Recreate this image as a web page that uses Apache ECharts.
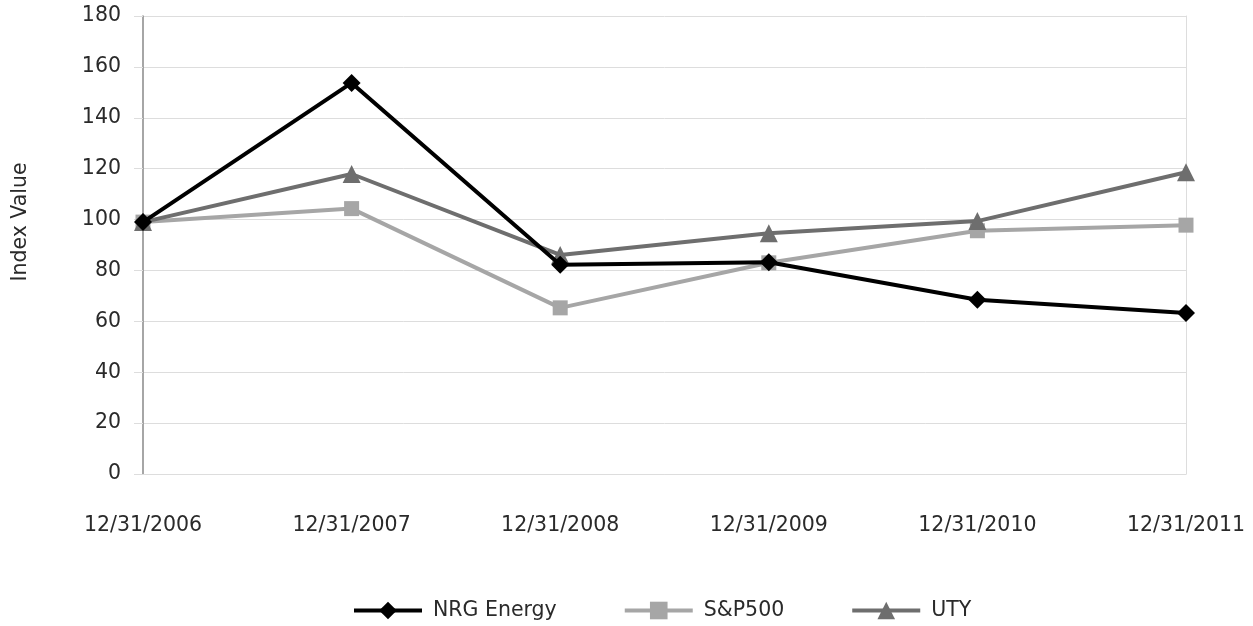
<!DOCTYPE html>
<html>
<head>
<meta charset="utf-8">
<script src="https://cdn.jsdelivr.net/npm/echarts@6/dist/echarts.min.js"></script>
<style>html,body{margin:0;padding:0;background:#fff;}#c{width:1253px;height:626px;}</style>
</head>
<body>
<div id="c"></div>
<script>
const categories = ['12/31/2006','12/31/2007','12/31/2008','12/31/2009','12/31/2010','12/31/2011'];
const nrgEnergy = [99, 153.7, 82.2, 83.2, 68.5, 63.3];
const sp500 = [99, 104.3, 65.3, 83, 95.6, 97.8];
const uty = [99, 117.9, 86.1, 94.6, 99.4, 118.6];
const yTicks = {min: 0, max: 180, interval: 20};

const chart = echarts.init(document.getElementById('c'));
const font = '"DejaVu Sans", sans-serif';
const txt = '#2a2a2a';
const fs = 20.5;
chart.setOption({
  animation: false,
  textStyle: {fontFamily: font},
  grid: {left: 143, right: 67, top: 16, bottom: 152},
  legend: {
    top: 600, left: 352, padding: 0, itemWidth: 68, itemHeight: 22, itemGap: 66,
    lineStyle: {width: 4},
    textStyle: {fontSize: fs, color: txt, fontFamily: font, padding: [0, 0, 0, 6]},
    data: ['NRG Energy', 'S&P500', 'UTY']
  },
  xAxis: {
    type: 'category', data: categories, boundaryGap: false,
    axisLine: {show: true, lineStyle: {color: '#ddd', width: 1}},
    axisTick: {show: false},
    axisLabel: {fontSize: fs, color: txt, margin: 41, fontFamily: font},
    splitLine: {show: false}
  },
  yAxis: [{
    type: 'value', min: yTicks.min, max: yTicks.max, interval: yTicks.interval,
    name: 'Index Value', nameLocation: 'middle', nameGap: 112, nameRotate: 90,
    nameTextStyle: {fontSize: fs, color: txt, fontFamily: font, padding: [0, 0, 0, 46]},
    axisLine: {show: true, lineStyle: {color: '#888', width: 1.5}},
    axisTick: {show: true, length: 9, lineStyle: {color: '#ddd'}},
    axisLabel: {fontSize: fs, color: txt, margin: 22, fontFamily: font},
    splitLine: {show: true, lineStyle: {color: '#ddd', width: 1}}
  }, {
    type: 'value', min: yTicks.min, max: yTicks.max, interval: yTicks.interval, position: 'right',
    axisLine: {show: true, lineStyle: {color: '#ddd', width: 1}},
    axisTick: {show: false}, axisLabel: {show: false}, splitLine: {show: false}
  }],
  series: [
    {name: 'NRG Energy', type: 'line', data: nrgEnergy, z: 5,
     symbol: 'diamond', symbolSize: 18, showAllSymbol: true,
     lineStyle: {color: '#000', width: 4}, itemStyle: {color: '#000'}},
    {name: 'S&P500', type: 'line', data: sp500, z: 3,
     symbol: 'rect', symbolSize: 15,
     lineStyle: {color: '#a6a6a6', width: 4}, itemStyle: {color: '#a6a6a6'}},
    {name: 'UTY', type: 'line', data: uty, z: 4,
     symbol: 'triangle', symbolSize: 18,
     lineStyle: {color: '#6e6e6e', width: 4}, itemStyle: {color: '#6e6e6e'}}
  ]
});
</script>
</body>
</html>
